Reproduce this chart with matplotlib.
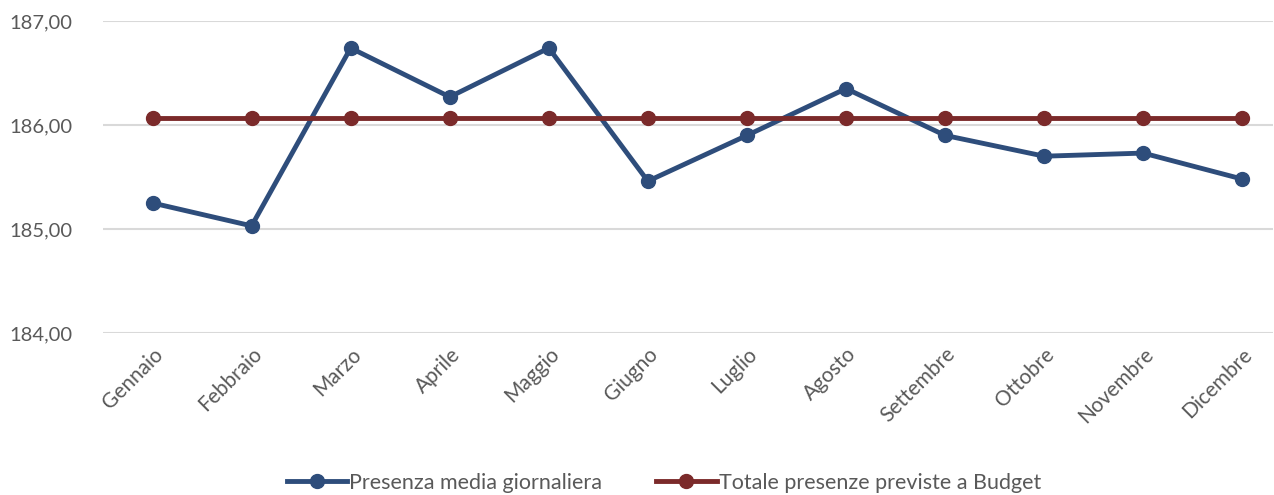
import numpy as np
import matplotlib.pyplot as plt

plt.rcParams['font.family'] = ['Lato', 'DejaVu Sans']

mesi = ['Gennaio', 'Febbraio', 'Marzo', 'Aprile', 'Maggio', 'Giugno',
        'Luglio', 'Agosto', 'Settembre', 'Ottobre', 'Novembre', 'Dicembre']
presenza_media = [185.25, 185.03, 186.74, 186.27, 186.74, 185.46,
                  185.90, 186.35, 185.90, 185.70, 185.73, 185.48]
budget = [186.07] * 12
yticks = [184, 185, 186, 187]

blue = '#2E4D7B'
red = '#7B2A2A'
grey = '#595959'

fig = plt.figure(figsize=(12.74, 4.95), dpi=100)
ax = fig.add_axes([103/1274, 1-333/495, 1170/1274, 312/495])

x = np.arange(len(mesi))
ax.plot(x, presenza_media, color=blue, linewidth=3.5, marker='o', markersize=10,
        label='Presenza media giornaliera', zorder=3)
ax.plot(x, budget, color=red, linewidth=3.5, marker='o', markersize=10,
        label='Totale presenze previste a Budget', zorder=3)

ax.set_ylim(184, 187)
ax.set_xlim(-0.5, 11.31)
ax.set_yticks(yticks)
ax.set_yticklabels([f'{v:.2f}'.replace('.', ',') for v in yticks], fontsize=14.5, color=grey)
ax.set_xticks(x)
ax.set_xticklabels(mesi, fontsize=15, color=grey, rotation=45, ha='right', va='top',
                   rotation_mode='anchor')
ax.tick_params(axis='y', length=0, pad=22)
ax.tick_params(axis='x', length=0, pad=8)
ax.grid(axis='y', color='#D9D9D9', linewidth=1.5)
ax.set_axisbelow(True)
for s in ax.spines.values():
    s.set_visible(False)

fig.legend(loc='center', bbox_to_anchor=(664/1274, 1-483/495), ncol=2, frameon=False,
           fontsize=15.5, handlelength=2.8, handletextpad=0.1, columnspacing=2.5,
           labelcolor=grey)

fig.savefig('out.png', dpi=100)
